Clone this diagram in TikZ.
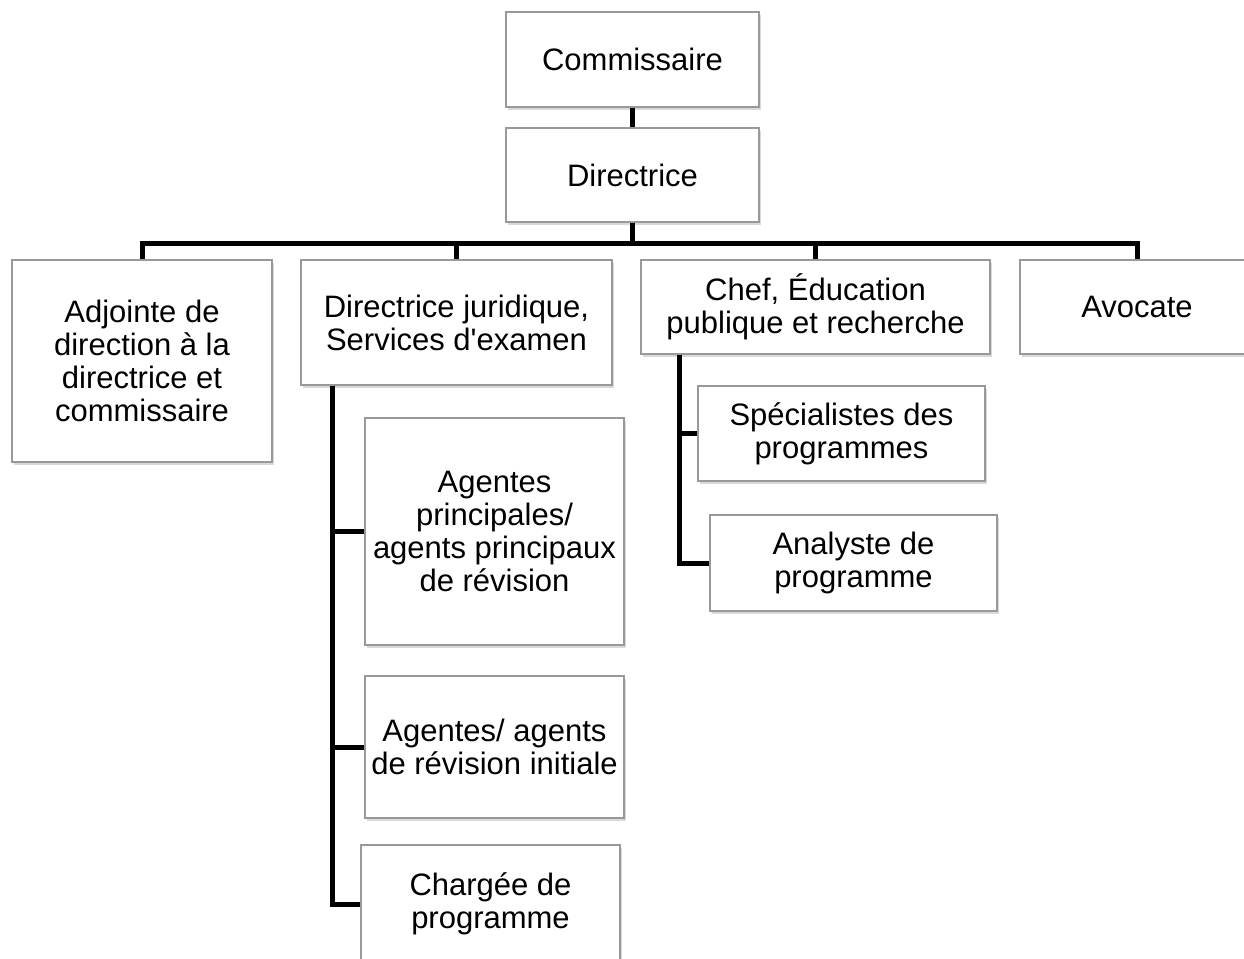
\documentclass[tikz,border=0pt]{standalone}
\usepackage{fontspec}
\newfontfamily\orgfont{Liberation Sans}[Ligatures=TeXOff]
\usetikzlibrary{shadows}
\tikzset{
  unit/.style={draw=black!40, line width=1.3pt, fill=white, align=center,
    inner sep=0pt, font=\orgfont\fontsize{31}{33}\selectfont,
    drop shadow={opacity=0.3, shadow xshift=2pt, shadow yshift=-3pt}},
  link/.style={line width=5pt}
}
\begin{document}
\begin{tikzpicture}[x=1pt,y=-1pt]
\useasboundingbox (0,0) rectangle (1244,958);
\node[unit, minimum width=253pt, minimum height=95pt] (comm) at (632.5,59.5) {Commissaire};
\node[unit, minimum width=253pt, minimum height=94pt] (dir) at (632.5,175) {Directrice};
\node[unit, minimum width=260pt, minimum height=202pt] (adj) at (142,361) {Adjointe de\\direction à la\\directrice et\\commissaire};
\node[unit, minimum width=311pt, minimum height=125pt] (jur) at (456.5,322.5) {Directrice juridique,\\Services d'examen};
\node[unit, minimum width=349pt, minimum height=94pt] (chef) at (815.5,307) {Chef, Éducation\\publique et recherche};
\node[unit, minimum width=234pt, minimum height=94pt] (avo) at (1137,307) {Avocate};
\node[unit, minimum width=259pt, minimum height=227pt] (ag1) at (494.5,531.5) {Agentes\\principales/\\agents principaux\\de révision};
\node[unit, minimum width=259pt, minimum height=142pt] (ag2) at (494.5,747) {Agentes/ agents\\de révision initiale};
\node[unit, minimum width=259pt, minimum height=118pt] (charg) at (490.5,904) {Chargée de\\programme};
\node[unit, minimum width=287pt, minimum height=95pt] (spec) at (841.5,433.5) {Spécialistes des\\programmes};
\node[unit, minimum width=287pt, minimum height=96pt] (ana) at (853.5,563) {Analyste de\\programme};
% lignes hiérarchiques
\draw[link] (comm) -- (dir);
\foreach \c in {adj,jur,chef,avo}
  \draw[link] (dir.south) -- ++(0,21) -| (\c.north);
\foreach \c in {ag1,ag2,charg}
  \draw[link] (jur.south west) ++(32,0) |- (\c.west);
\foreach \c in {spec,ana}
  \draw[link] (chef.south west) ++(39,0) |- (\c.west);
\end{tikzpicture}
\end{document}
